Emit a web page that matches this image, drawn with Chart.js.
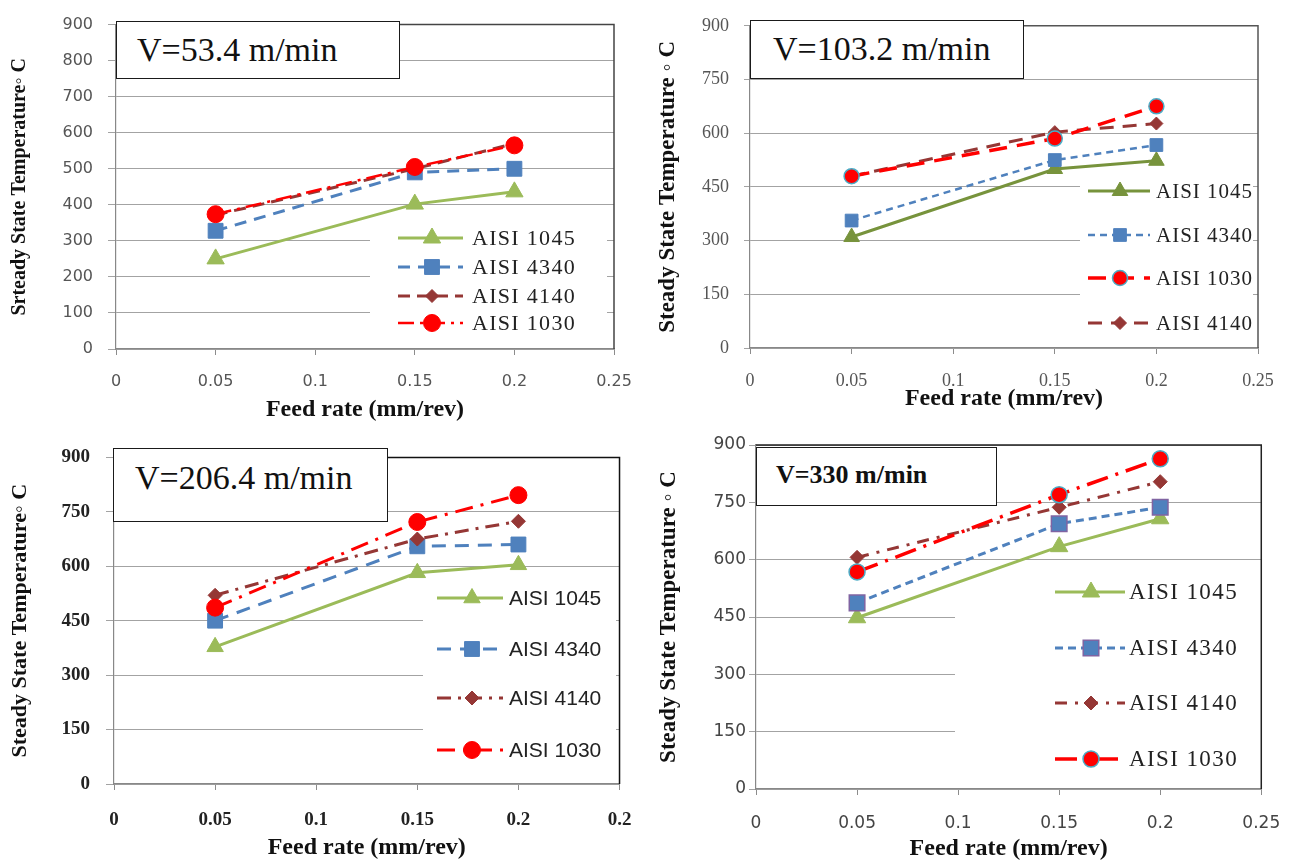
<!DOCTYPE html>
<html>
<head>
<meta charset="utf-8">
<script src="https://cdn.jsdelivr.net/npm/chart.js@4.4.1/dist/chart.umd.min.js"></script>
<style>
  body { margin: 0; background: #fff; width: 1299px; height: 865px; position: relative; overflow: hidden; }
  .panel { position: absolute; }
  .vbox { position: absolute; border: 1.5px solid #1a1a1a; background: #fff; box-sizing: border-box; }
  .vtxt { position: absolute; font-family: 'Liberation Serif', serif; line-height: 1; white-space: nowrap; color: #111; }
</style>
</head>
<body>
<div class="panel" style="left:0;top:0;width:650px;height:430px"><canvas id="c1"></canvas></div>
<div class="panel" style="left:650px;top:0;width:649px;height:430px"><canvas id="c2"></canvas></div>
<div class="panel" style="left:0;top:430px;width:650px;height:435px"><canvas id="c3"></canvas></div>
<div class="panel" style="left:650px;top:430px;width:649px;height:435px"><canvas id="c4"></canvas></div>

<script>
// feed rates (mm/rev) shared by every panel
const feedRates = [0.05, 0.15, 0.2];
const xTickLabels = ['0', '0.05', '0.1', '0.15', '0.2', '0.25'];
const xTickLabels206 = ['0', '0.05', '0.1', '0.15', '0.2', '0.2'];

// V = 53.4 m/min
const t53_1045 = [250, 402, 436];
const t53_4340 = [328, 490, 500];
const t53_4140 = [372, 500, 570];
const t53_1030 = [374, 505, 565];

// V = 103.2 m/min
const t103_1045 = [310, 500, 523];
const t103_4340 = [356, 525, 567];
const t103_1030 = [480, 585, 675];
const t103_4140 = [480, 603, 627];

// V = 206.4 m/min
const t206_1045 = [378, 582, 604];
const t206_4340 = [450, 655, 660];
const t206_4140 = [520, 675, 724];
const t206_1030 = [486, 722, 796];

// V = 330 m/min
const t330_1045 = [448, 634, 707];
const t330_4340 = [487, 694, 737];
const t330_4140 = [606, 737, 804];
const t330_1030 = [568, 770, 864];

function pts(vals) {
  return feedRates.map((x, i) => ({ x: x, y: vals[i] }));
}

function series(label, vals, st) {
  return {
    label: label,
    data: pts(vals),
    borderColor: st.color,
    backgroundColor: st.color,
    borderWidth: st.width,
    borderDash: st.dash,
    pointStyle: st.shape,
    pointRadius: st.r,
    pointHoverRadius: st.r,
    pointBackgroundColor: st.color,
    pointBorderColor: st.edge || st.color,
    pointBorderWidth: st.edge ? 1.5 : 1,
    order: st.order,
    tension: 0,
    fill: false
  };
}

function drawMarker(ctx, shape, r, x, y) {
  ctx.beginPath();
  if (shape === 'triangle') {
    ctx.moveTo(x, y - r);
    ctx.lineTo(x + r * 0.866, y + r * 0.5);
    ctx.lineTo(x - r * 0.866, y + r * 0.5);
    ctx.closePath();
  } else if (shape === 'rect') {
    const s = r * Math.SQRT1_2;
    ctx.rect(x - s, y - s, 2 * s, 2 * s);
  } else if (shape === 'rectRot') {
    ctx.moveTo(x, y - r); ctx.lineTo(x + r, y); ctx.lineTo(x, y + r); ctx.lineTo(x - r, y);
    ctx.closePath();
  } else {
    ctx.arc(x, y, r, 0, Math.PI * 2);
  }
  ctx.fill();
  ctx.stroke();
}

// legend drawn inside the plot, on a white patch that hides the grid
const insetLegend = {
  id: 'insetLegend',
  beforeDatasetsDraw(chart, args, o) {
    const ctx = chart.ctx;
    ctx.save();
    ctx.fillStyle = '#fff';
    ctx.fillRect(o.bg[0], o.bg[1], o.bg[2] - o.bg[0], o.bg[3] - o.bg[1]);
    ctx.restore();
  },
  afterDatasetsDraw(chart, args, o) {
    const ctx = chart.ctx;
    chart.data.datasets.forEach((ds, i) => {
      const y = o.ys[i];
      ctx.save();
      ctx.strokeStyle = ds.borderColor;
      ctx.lineWidth = ds.borderWidth;
      ctx.setLineDash(ds.borderDash || []);
      ctx.beginPath();
      ctx.moveTo(o.x0, y);
      ctx.lineTo(o.x1, y);
      ctx.stroke();
      ctx.setLineDash([]);
      ctx.fillStyle = ds.pointBackgroundColor;
      ctx.strokeStyle = ds.pointBorderColor;
      ctx.lineWidth = ds.pointBorderWidth;
      drawMarker(ctx, ds.pointStyle, ds.pointRadius, o.mx, y);
      ctx.fillStyle = '#222';
      ctx.font = o.font;
      if ('letterSpacing' in ctx) ctx.letterSpacing = o.spacing;
      ctx.textBaseline = 'middle';
      ctx.textAlign = 'left';
      ctx.fillText(ds.label, o.tx, y + 1);
      ctx.restore();
    });
  }
};

// top and right edges of the plot frame
const plotFrame = {
  id: 'plotFrame',
  afterDraw(chart, args, o) {
    const { ctx, chartArea: a } = chart;
    ctx.save();
    ctx.strokeStyle = o.color;
    ctx.lineWidth = 1.5;
    ctx.beginPath();
    ctx.moveTo(a.left, a.top);
    ctx.lineTo(a.right, a.top);
    ctx.lineTo(a.right, a.bottom);
    ctx.stroke();
    ctx.restore();
  }
};

function addBox(b) {
  const d = document.createElement('div');
  d.className = 'vbox';
  d.style.left = b.x0 + 'px'; d.style.top = b.y0 + 'px';
  d.style.width = (b.x1 - b.x0) + 'px'; d.style.height = (b.y1 - b.y0) + 'px';
  document.body.appendChild(d);
  const t = document.createElement('div');
  t.className = 'vtxt';
  t.textContent = b.text;
  t.style.fontSize = b.size + 'px';
  t.style.fontWeight = b.bold ? 'bold' : 'normal';
  t.style.left = b.tx + 'px';
  t.style.top = (b.cy - 0.5075 * b.size) + 'px';
  document.body.appendChild(t);
}

function makePanel(p) {
  const [fx, fy, fw, fh] = p.frame;
  const [L, R, T, B] = p.plot;
  const yTitleLH = p.yTitleSize * 1.2;
  const xTitleLH = p.xTitleSize * 1.2;
  const tickLH = p.tick.size * 1.2;
  const xAxisH = p.xTitleY - B + xTitleLH / 2;
  const tickFont = { family: p.tick.family, size: p.tick.size, weight: p.tick.weight || 'normal' };
  const lg = p.legend;

  new Chart(document.getElementById(p.id), {
    type: 'line',
    data: { datasets: p.datasets },
    plugins: [insetLegend, plotFrame],
    options: {
      responsive: true,
      maintainAspectRatio: false,
      animation: false,
      layout: { padding: { left: 0, top: T - fy, right: fx + fw - R, bottom: fy + fh - B - xAxisH } },
      plugins: {
        legend: { display: false },
        tooltip: { enabled: false },
        insetLegend: {
          bg: [lg.bg[0] - fx, lg.bg[1] - fy, lg.bg[2] - fx, lg.bg[3] - fy],
          x0: lg.line[0] - fx, x1: lg.line[1] - fx, mx: lg.mx - fx, tx: lg.tx - fx,
          ys: lg.ys.map(v => v - fy),
          font: lg.font, spacing: lg.spacing
        },
        plotFrame: { color: p.frameColor }
      },
      scales: {
        x: {
          type: 'linear',
          min: 0, max: 0.25,
          afterFit: s => { s.height = xAxisH; },
          afterBuildTicks: axis => {
            axis.ticks = p.xLabels.map((lab, i) => ({ value: i * 0.05 }));
          },
          grid: { drawOnChartArea: false, drawTicks: true, tickLength: 6, color: '#8c8c8c' },
          border: { color: '#888', width: 1.2 },
          ticks: {
            font: tickFont, color: p.tick.color,
            padding: p.xTickY - B - 6 - tickLH / 2,
            maxRotation: 0, autoSkip: false,
            callback: (v, i) => p.xLabels[i]
          },
          title: {
            display: true, text: 'Feed rate (mm/rev)', color: '#111',
            font: { family: 'Liberation Serif', size: p.xTitleSize, weight: 'bold' },
            padding: 0
          }
        },
        y: {
          min: 0, max: 900,
          afterFit: s => { s.width = L - fx; },
          grid: { color: '#a3a3a3', tickLength: p.yTickLen, lineWidth: 1 },
          border: { color: '#888', width: 1.2 },
          ticks: { stepSize: p.yStep, font: tickFont, color: p.tick.color, padding: p.yTickPad },
          title: {
            display: true, text: p.yTitle, color: '#111',
            font: { family: 'Liberation Serif', size: p.yTitleSize, weight: 'bold' },
            padding: { top: p.yTitleX - fx - yTitleLH / 2, bottom: 0 }
          }
        }
      }
    }
  });
  addBox(p.box);
}

// panel 1: V = 53.4 m/min
makePanel({
  id: 'c1', frame: [0, 0, 650, 430], plot: [116, 614, 21, 349],
  yStep: 100, yTickLen: 8, yTickPad: 15,
  tick: { family: 'DejaVu Sans', size: 16, color: '#555' },
  xLabels: xTickLabels, xTickY: 382, xTitleY: 410, xTitleSize: 24,
  yTitle: 'Srteady State Temperature\u25E6 C', yTitleX: 20, yTitleSize: 20,
  frameColor: '#444',
  datasets: [
    series('AISI 1045', t53_1045, { color: '#9BBB59', width: 3, dash: [], shape: 'triangle', r: 10, order: 4 }),
    series('AISI 4340', t53_4340, { color: '#4F81BD', width: 3, dash: [12, 8], shape: 'rect', r: 10.5, order: 3 }),
    series('AISI 4140', t53_4140, { color: '#953735', width: 3, dash: [12, 7], shape: 'rectRot', r: 6.5, order: 2 }),
    series('AISI 1030', t53_1030, { color: '#FF0000', width: 2.5, dash: [16, 6, 3, 6], shape: 'circle', r: 8.5, order: 1 })
  ],
  legend: { bg: [370, 222, 607, 343], line: [398, 463], mx: 432, tx: 472, ys: [238, 267, 296, 323],
            font: '22px "Liberation Serif"', spacing: '1.3px' },
  box: { x0: 116, y0: 21, x1: 400, y1: 79, text: 'V=53.4 m/min', tx: 137, cy: 50, size: 34 }
});

// panel 2: V = 103.2 m/min
makePanel({
  id: 'c2', frame: [650, 0, 649, 430], plot: [750, 1258, 19, 348],
  yStep: 150, yTickLen: 6, yTickPad: 15,
  tick: { family: 'Liberation Serif', size: 18, color: '#555' },
  xLabels: xTickLabels, xTickY: 381, xTitleY: 399, xTitleSize: 24,
  yTitle: 'Steady State Temperature \u25E6 C', yTitleX: 668, yTitleSize: 23,
  frameColor: '#555',
  datasets: [
    series('AISI 1045', t103_1045, { color: '#77933C', width: 3, dash: [], shape: 'triangle', r: 9, order: 4 }),
    series('AISI 4340', t103_4340, { color: '#4F81BD', width: 2.5, dash: [7, 5], shape: 'rect', r: 9, order: 3 }),
    series('AISI 1030', t103_1030, { color: '#FF0000', width: 3.5, dash: [18, 10], shape: 'circle', r: 7.5, edge: '#4BACC6', order: 1 }),
    series('AISI 4140', t103_4140, { color: '#953735', width: 3, dash: [14, 9], shape: 'rectRot', r: 6.5, order: 2 })
  ],
  legend: { bg: [1080, 168, 1253, 343], line: [1088, 1150], mx: 1120, tx: 1156, ys: [191, 235, 278, 323],
            font: '21px "Liberation Serif"', spacing: '1px' },
  box: { x0: 750, y0: 20, x1: 1024, y1: 79, text: 'V=103.2 m/min', tx: 773, cy: 49, size: 34 }
});

// panel 3: V = 206.4 m/min
makePanel({
  id: 'c3', frame: [0, 430, 650, 435], plot: [114, 622, 444, 784],
  yStep: 150, yTickLen: 8, yTickPad: 16,
  tick: { family: 'Liberation Serif', size: 19, color: '#222', weight: 'bold' },
  xLabels: xTickLabels206, xTickY: 820, xTitleY: 848, xTitleSize: 24,
  yTitle: 'Steady State Temperature\u25E6 C', yTitleX: 20, yTitleSize: 22,
  frameColor: '#111',
  datasets: [
    series('AISI 1045', t206_1045, { color: '#9BBB59', width: 3, dash: [], shape: 'triangle', r: 9.5, order: 4 }),
    series('AISI 4340', t206_4340, { color: '#4F81BD', width: 3, dash: [14, 9], shape: 'rect', r: 10.5, order: 3 }),
    series('AISI 4140', t206_4140, { color: '#953735', width: 3, dash: [14, 7, 3, 7], shape: 'rectRot', r: 7, order: 2 }),
    series('AISI 1030', t206_1030, { color: '#FF0000', width: 3, dash: [18, 8, 3, 8], shape: 'circle', r: 8.5, order: 1 })
  ],
  legend: { bg: [423, 575, 616, 779], line: [437, 503], mx: 472, tx: 509, ys: [598, 649, 698, 750],
            font: '21px "Liberation Sans"', spacing: '0px' },
  box: { x0: 113, y0: 448, x1: 388, y1: 522, text: 'V=206.4 m/min', tx: 135, cy: 478, size: 34 }
});

// panel 4: V = 330 m/min
makePanel({
  id: 'c4', frame: [650, 430, 649, 435], plot: [756, 1266, 445, 789],
  yStep: 150, yTickLen: 7, yTickPad: 3,
  tick: { family: 'DejaVu Sans', size: 17, color: '#444' },
  xLabels: xTickLabels, xTickY: 824, xTitleY: 849, xTitleSize: 24,
  yTitle: 'Steady State Temperature \u25E6 C', yTitleX: 669, yTitleSize: 23,
  frameColor: '#222',
  datasets: [
    series('AISI 1045', t330_1045, { color: '#9BBB59', width: 3, dash: [], shape: 'triangle', r: 10, order: 4 }),
    series('AISI 4340', t330_4340, { color: '#4F81BD', width: 3, dash: [8, 5], shape: 'rect', r: 11, edge: '#8064A2', order: 3 }),
    series('AISI 4140', t330_4140, { color: '#953735', width: 3, dash: [12, 8, 3, 8], shape: 'rectRot', r: 7, order: 2 }),
    series('AISI 1030', t330_1030, { color: '#FF0000', width: 3.5, dash: [22, 8, 3, 8], shape: 'circle', r: 8, edge: '#4BACC6', order: 1 })
  ],
  legend: { bg: [955, 575, 1261, 784], line: [1055, 1125], mx: 1091, tx: 1129, ys: [592, 648, 703, 759],
            font: '23px "Liberation Serif"', spacing: '1.4px' },
  box: { x0: 756, y0: 447, x1: 997, y1: 506, text: 'V=330 m/min', tx: 776, cy: 475, size: 26, bold: true }
});
</script>
</body>
</html>
